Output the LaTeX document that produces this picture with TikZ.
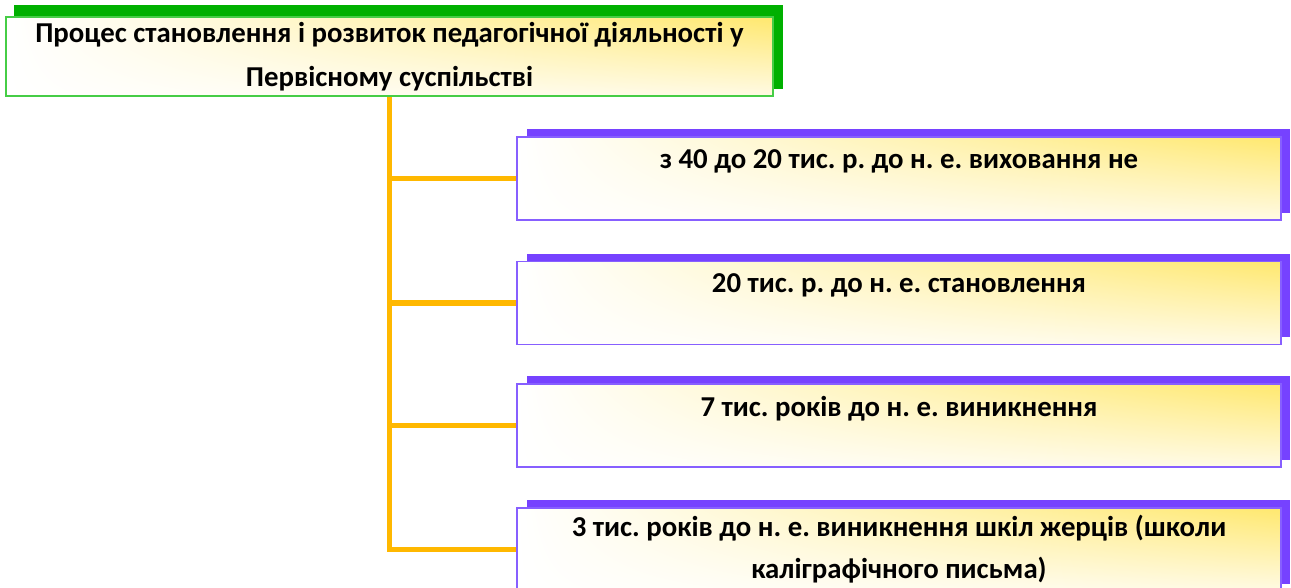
\documentclass[tikz,border=0pt]{standalone}
\usepackage{fontspec}
\setmainfont{Carlito}
\frenchspacing
\usetikzlibrary{shadings,backgrounds}
\definecolor{grn}{RGB}{0,176,0}
\definecolor{grnb}{RGB}{70,205,70}
\definecolor{purp}{RGB}{118,66,255}
\definecolor{purpb}{RGB}{135,95,255}
\definecolor{orng}{RGB}{255,184,0}
\definecolor{ylw}{RGB}{255,232,110}
\definecolor{ylwl}{RGB}{255,250,228}
\begin{document}
\begin{tikzpicture}[x=1pt,y=-1pt,
  yfill/.style={upper right=ylw, upper left=white, lower left=white, lower right=ylwl},
  topbox/.style={draw=grnb, line width=1.5pt, yfill, minimum width=767pt, minimum height=79pt, inner sep=0pt},
  pbox/.style={draw=purpb, line width=1.5pt, yfill, minimum width=764pt, minimum height=83pt, inner sep=0pt},
  txt/.style={font=\bfseries\fontsize{28.8}{44}\selectfont, align=center, inner sep=0pt},
  conn/.style={draw=orng, line width=5.5pt}]
\clip (0,0) rectangle (1291,588);
\useasboundingbox (0,0) rectangle (1291,588);
% nodes
\node[topbox] (top) at (389.5,56.5) {};
\node[txt] (ttop) at (top.center) {Процес становлення і розвиток педагогічної діяльності у\\Первісному суспільстві};
\node[pbox] (b1) at (899,178.5) {};
\node[pbox] (b2) at (899,303) {};
\node[pbox] (b3) at (899,425.5) {};
\node[pbox] (b4) at (899,549.5) {};
\node[txt] (t1) at ([yshift=-25pt]b1.north) {з 40 до 20 тис. р. до н. е. виховання не};
\node[txt] (t2) at ([yshift=-25pt]b2.north) {20 тис. р. до н. е. становлення};
\node[txt] (t3) at ([yshift=-25pt]b3.north) {7 тис. років до н. е. виникнення};
\node[txt, font=\bfseries\fontsize{28.8}{42}\selectfont] (t4) at (b4.center) {3 тис. років до н. е. виникнення шкіл жерців (школи\\каліграфічного письма)};
\begin{pgfonlayer}{background}
  \fill[white] (0,0) rectangle (1291,588);
  \fill[grn] ([shift={(9pt,11pt)}]top.north west) rectangle ([shift={(9pt,8pt)}]top.south east);
  \foreach \b in {b1,b2,b3,b4}{
    \fill[purp] ([shift={(11pt,7pt)}]\b.north west) rectangle ([shift={(8pt,8pt)}]\b.south east);
  }
  \draw[conn] (top.south) |- (b4.west);
  \draw[conn] (top.south |- b1.west) -- (b1.west);
  \draw[conn] (top.south |- b2.west) -- (b2.west);
  \draw[conn] (top.south |- b3.west) -- (b3.west);
\end{pgfonlayer}
\end{tikzpicture}
\end{document}
